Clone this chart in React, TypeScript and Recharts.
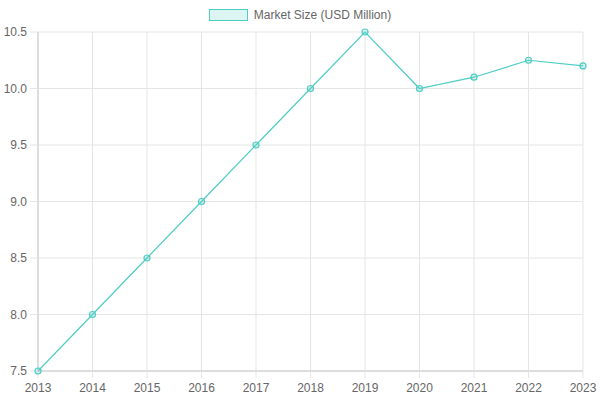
import { CartesianGrid, Legend, Line, LineChart, XAxis, YAxis } from 'recharts'

const years = ['2013', '2014', '2015', '2016', '2017', '2018', '2019', '2020', '2021', '2022', '2023']
const marketSize = [7.5, 8.0, 8.5, 9.0, 9.5, 10.0, 10.5, 10.0, 10.1, 10.25, 10.2]
const yTicks = [7.5, 8.0, 8.5, 9.0, 9.5, 10.0, 10.5]

const seriesName = 'Market Size (USD Million)'
const lineColor = '#4ecdc4'
const fillColor = 'rgba(78, 205, 196, 0.2)'

const data = years.map((year, i) => ({ year, value: marketSize[i] }))

function TopLegend() {
  return (
    <div
      style={{
        display: 'flex',
        justifyContent: 'center',
        alignItems: 'center',
        gap: 6,
        fontSize: 12,
        color: '#666',
        height: 24,
      }}
    >
      <span
        style={{
          display: 'inline-block',
          width: 37,
          height: 10,
          border: `1.5px solid ${lineColor}`,
          backgroundColor: fillColor,
        }}
      />
      {seriesName}
    </div>
  )
}

export default function App() {
  return (
    <div
      style={{
        position: 'fixed',
        top: 0,
        left: 0,
        width: 600,
        height: 400,
        background: '#fff',
        fontFamily: '"Liberation Sans", Arial, Helvetica, sans-serif',
      }}
    >
      <LineChart
        width={600}
        height={400}
        data={data}
        margin={{ top: 8, right: 17, bottom: 0, left: 0 }}
      >
        <Legend
          verticalAlign="top"
          align="center"
          height={24}
          content={() => <TopLegend />}
          wrapperStyle={{ top: 3, left: 0, width: 600 }}
        />
        <CartesianGrid stroke="#e5e5e5" strokeWidth={1} />
        <XAxis
          dataKey="year"
          interval={0}
          height={29}
          tickSize={7}
          tickLine={{ stroke: '#e5e5e5' }}
          axisLine={{ stroke: '#c8c8c8' }}
          tick={{ fill: '#666', fontSize: 12 }}
          tickMargin={5}
          padding={{ left: 0, right: 0 }}
        />
        <YAxis
          domain={[7.5, 10.5]}
          ticks={yTicks}
          width={38}
          tickSize={8}
          tickLine={{ stroke: '#e5e5e5' }}
          axisLine={{ stroke: '#c8c8c8' }}
          tick={{ fill: '#666', fontSize: 12 }}
          tickMargin={3}
          tickFormatter={(v: number) => v.toFixed(1)}
        />
        <Line
          type="linear"
          dataKey="value"
          name={seriesName}
          stroke={lineColor}
          strokeWidth={1.2}
          dot={{ r: 3, stroke: lineColor, strokeWidth: 1.2, fill: fillColor }}
          activeDot={false}
          isAnimationActive={false}
        />
      </LineChart>
    </div>
  )
}
